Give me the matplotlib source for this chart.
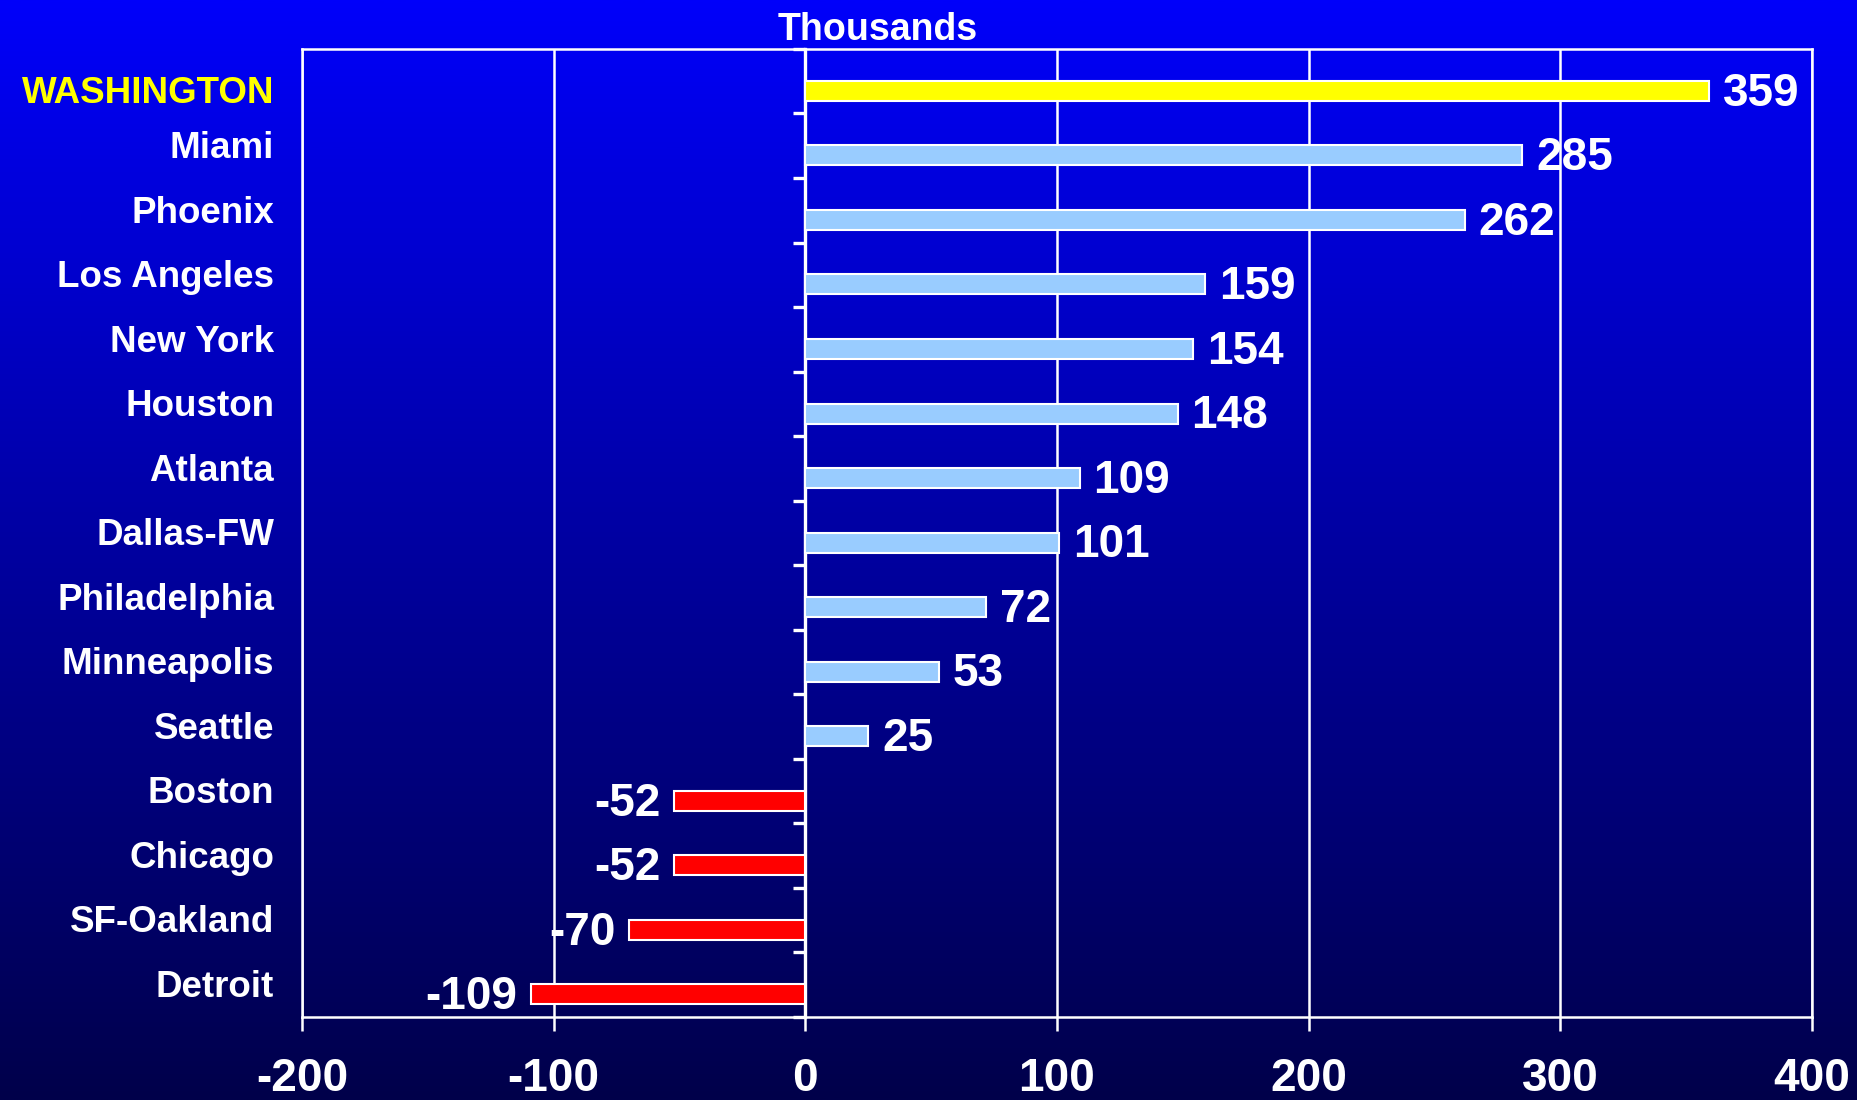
import numpy as np
import matplotlib
matplotlib.use("Agg")
import matplotlib.pyplot as plt
from matplotlib.colors import LinearSegmentedColormap

plt.rcParams["font.family"] = ["Liberation Sans", "DejaVu Sans"]
plt.rcParams["font.weight"] = "bold"

# ── data (job change, thousands) ───────────────────────────────────────────────
cities = ["WASHINGTON", "Miami", "Phoenix", "Los Angeles", "New York", "Houston",
          "Atlanta", "Dallas-FW", "Philadelphia", "Minneapolis", "Seattle",
          "Boston", "Chicago", "SF-Oakland", "Detroit"]
change = [359, 285, 262, 159, 154, 148, 109, 101, 72, 53, 25, -52, -52, -70, -109]
x_ticks = [-200, -100, 0, 100, 200, 300, 400]
highlight = "WASHINGTON"

YELLOW = "#FFFF00"
LIGHT_BLUE = "#99CCFF"
RED = "#FF0000"
WHITE = "white"

# ── figure + gradient background ───────────────────────────────────────────────
fig = plt.figure(figsize=(18.57, 11), dpi=100)
bg = fig.add_axes([0, 0, 1, 1], zorder=0)
grad = np.linspace(0, 1, 512).reshape(-1, 1)
cmap = LinearSegmentedColormap.from_list("bg", ["#0000FA", "#0000A0", "#00004A"])
bg.imshow(grad, aspect="auto", cmap=cmap, extent=[0, 1, 0, 1])
bg.axis("off")

ax = fig.add_axes([0.1626, 0.0755, 0.8131, 0.88], zorder=1)
ax.patch.set_alpha(0)

n = len(cities)
pos = np.arange(n)
bar_shift = 0.15
colors = [YELLOW if c == highlight else (RED if v < 0 else LIGHT_BLUE)
          for c, v in zip(cities, change)]

ax.barh(pos + bar_shift, change, height=0.31, color=colors,
        edgecolor=WHITE, linewidth=1.5, zorder=3)

ax.set_xlim(x_ticks[0], x_ticks[-1])
ax.set_ylim(n - 0.5, -0.5)
ax.set_xticks(x_ticks)
ax.set_xticklabels([str(t) for t in x_ticks])
ax.grid(axis="x", color=WHITE, linewidth=1.8, zorder=1)
ax.set_yticks([])

for sp in ax.spines.values():
    sp.set_color(WHITE)
    sp.set_linewidth(1.8)

ax.tick_params(axis="x", colors=WHITE, length=10, width=1.8, pad=19,
               labelsize=33)
for lbl in ax.get_xticklabels():
    lbl.set_fontweight("bold")

# category separator ticks on the zero line
zero_loc = (0 - x_ticks[0]) / (x_ticks[-1] - x_ticks[0])
sec = ax.secondary_yaxis(zero_loc)
sec.set_yticks(np.arange(n + 1) - 0.5)
sec.tick_params(axis="y", direction="out", length=9, width=2.4, colors=WHITE,
                labelleft=False)
sec.spines["left"].set_color(WHITE)
sec.spines["left"].set_linewidth(2.4)

# city names
for c, y in zip(cities, pos):
    hl = c == highlight
    ax.annotate(c, (0, y + (bar_shift if hl else 0)),
                xycoords=("axes fraction", "data"),
                xytext=(-20, -2), textcoords="offset points",
                ha="right", va="center", fontsize=26.5, fontweight="bold",
                color=YELLOW if hl else WHITE)

# value labels
for v, y in zip(change, pos):
    ax.annotate(str(v), (v, y + bar_shift),
                xytext=(10 if v >= 0 else -10, -2), textcoords="offset points",
                ha="left" if v >= 0 else "right", va="center",
                fontsize=33, fontweight="bold", color=WHITE, zorder=4)

fig.text(878 / 1857, 1 - 29.5 / 1100, "Thousands", ha="center", va="center",
         fontsize=27, fontweight="bold", color=WHITE)

fig.savefig("out.png", dpi=100)
